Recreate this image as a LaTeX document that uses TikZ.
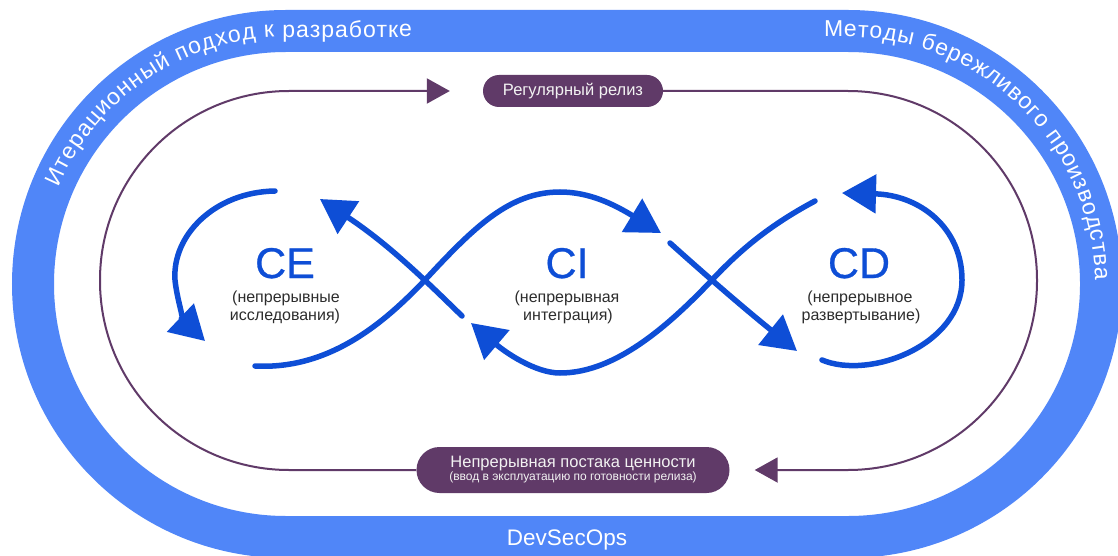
\documentclass[tikz,border=0pt]{standalone}
\usepackage{fontspec}
\setmainfont{Liberation Sans}
\newfontfamily\stagefont[FakeBold=0.7]{Liberation Sans}
\usetikzlibrary{arrows.meta,decorations.text}

\definecolor{bandblue}{RGB}{80,134,248}
\definecolor{loopblue}{RGB}{14,78,214}
\definecolor{plum}{RGB}{96,58,104}
\definecolor{pilltext}{RGB}{242,242,242}
\definecolor{captext}{RGB}{45,45,45}

\newcommand\bandfont{\color{white}\fontsize{23}{23}\selectfont}

\begin{document}
\begin{tikzpicture}[x=1pt,y=-1pt,
  band/.style={draw=bandblue,line width=42pt,rounded corners=253pt},
  flowline/.style={draw=loopblue,line width=5.5pt,line cap=round},
  flow/.style={flowline,-{Triangle[length=34pt,width=38pt]}},
  cycleline/.style={draw=plum,line width=2pt,rounded corners=189pt,
    -{Triangle[length=23pt,width=25pt]}},
  pill/.style={fill=plum,text=pilltext,inner sep=0pt,align=center},
  stage/.style={anchor=base,text=loopblue,font=\stagefont\fontsize{43}{43}\selectfont},
  stagesub/.style={anchor=base,text=captext,font=\fontsize{16}{16}\selectfont},
  bandtext/.style={decorate,decoration={text along path,text align=fit to path,text={#1}}}
]
\clip (0,0) rectangle (1118,556);
\fill[white] (0,0) rectangle (1118,556);

% outer band
\draw[band] (33,31) rectangle (1101,537);
\path[bandtext={|\bandfont|Итерационный подход к разработке}]
  (58.6,187.5) arc[start angle=203,end angle=270,radius=247] -- (412,37);
\path[bandtext={|\bandfont|Методы бережливого производства}]
  (824,37) -- (848,37) arc[start angle=270,end angle=359,radius=247];
\node[anchor=base,text=white,font=\fontsize{22.5}{22.5}\selectfont] (devsecops) at (567,545) {DevSecOps};

% release cycle
\node[pill,minimum width=180pt,minimum height=32pt,rounded corners=16pt,
      font=\fontsize{16.5}{16.5}\selectfont] (release) at (573,91) {Регулярный релиз};
\node[pill,minimum width=313pt,minimum height=46pt,rounded corners=23pt] (value) at (573,470)
  {{\fontsize{16.5}{15}\selectfont Непрерывная постака ценности}\\
   {\fontsize{12}{14}\selectfont (ввод в эксплуатацию по готовности релиза)}};
\coordinate (releasein) at ([xshift=-33pt]release.west);
\coordinate (valuein) at ([xshift=25pt]value.east);
\draw[cycleline] (value.west) -- (100,470) -- (100,91) -- (releasein);
\draw[cycleline] (release.east) -- (1037,91) -- (1037,470) -- (valuein);

% stage labels
\node[stage] (ce) at (285,278) {CE};
\node[stagesub] (ce1) at (286,302) {(непрерывные};
\node[stagesub] (ce2) at (285,320) {исследования)};
\node[stage] (ci) at (567,278) {CI};
\node[stagesub] (ci1) at (567,302) {(непрерывная};
\node[stagesub] (ci2) at (568,320) {интеграция)};
\node[stage] (cd) at (859,278) {CD};
\node[stagesub] (cd1) at (860,302) {(непрерывное};
\node[stagesub] (cd2) at (861,320) {развертывание)};

% figure-eight flows
\draw[flow] (275,191) .. controls (215,192) and (172,235) .. (175,280)
  .. controls (177,300) and (185,322) .. (205,341);
\draw[flow] (255,366) .. controls (330,370) and (385,322) .. (425,280)
  .. controls (475,226) and (510,192) .. (560,192)
  .. controls (590,192) and (615,205) .. (661,233);
\draw[flow] (670,243) .. controls (700,270) and (740,305) .. (797,351);
\draw[flow] (822,360) .. controls (870,380) and (962,345) .. (962,280)
  .. controls (962,228) and (920,195) .. (842,193);
\draw[flow] (815,201) .. controls (770,225) and (740,250) .. (712,280)
  .. controls (660,335) and (610,373) .. (560,373)
  .. controls (535,373) and (505,352) .. (471,323);
\draw[flow] (462,316) .. controls (430,285) and (390,245) .. (320,199);
\end{tikzpicture}
\end{document}
